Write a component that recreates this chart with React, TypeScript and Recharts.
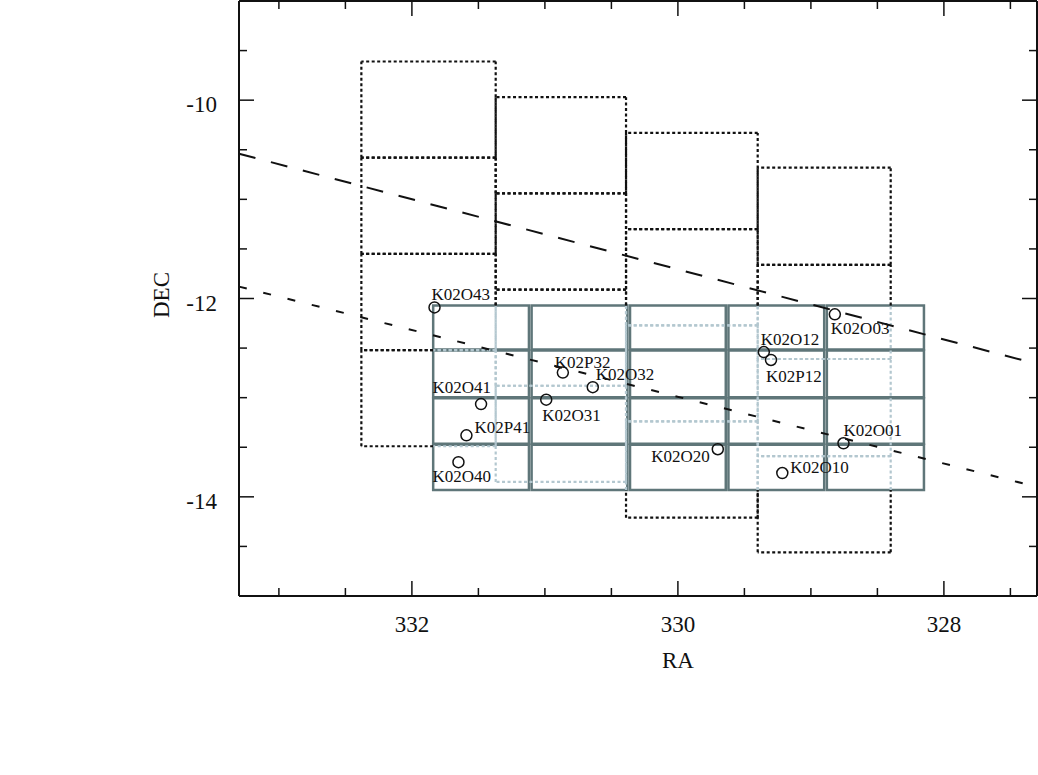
import React from 'react'
import { ComposedChart, XAxis, YAxis, Scatter, ReferenceLine, ReferenceArea, Label } from 'recharts'

// axis ticks
const RA_TICKS = [327.5, 328, 328.5, 329, 329.5, 330, 330.5, 331, 331.5, 332, 332.5, 333]
const RA_LABELED = [328, 330, 332]
const DEC_TICKS = [-14.5, -14, -13.5, -13, -12.5, -12, -11.5, -11, -10.5, -10, -9.5]
const DEC_LABELED = [-14, -12, -10]

// dotted fields: 4 columns, each a stack of 4 fields (edges in DEC)
const OLD_COL_RA = [[332.38, 331.37], [331.37, 330.39], [330.39, 329.40], [329.40, 328.40]]
const OLD_COL_DEC = [
  [-9.61, -10.58, -11.55, -12.52, -13.49],
  [-9.97, -10.94, -11.91, -12.88, -13.85],
  [-10.33, -11.30, -12.27, -13.24, -14.21],
  [-10.68, -11.66, -12.61, -13.59, -14.56],
]

// solid mosaic fields (5 x 4)
const MOSAIC_RA = [[331.84, 331.12], [331.10, 330.38], [330.36, 329.64], [329.62, 328.90], [328.88, 328.15]]
const MOSAIC_DEC = [[-12.07, -12.515], [-12.525, -12.995], [-13.005, -13.465], [-13.475, -13.93]]

// two dashed tracks
const LONG_DASH = [{ ra: 333.3, dec: -10.54 }, { ra: 327.3, dec: -12.66 }]
const SHORT_DASH = [{ ra: 333.3, dec: -11.88 }, { ra: 327.3, dec: -13.90 }]

// objects
const NAMES = ['K02O43', 'K02P32', 'K02O32', 'K02O41', 'K02O31', 'K02P41', 'K02O40',
  'K02O12', 'K02P12', 'K02O03', 'K02O01', 'K02O20', 'K02O10']
const OBJ_RA = [331.83, 330.865, 330.64, 331.48, 330.99, 331.59, 331.65,
  329.354, 329.30, 328.82, 328.755, 329.70, 329.215]
const OBJ_DEC = [-12.09, -12.747, -12.894, -13.065, -13.02, -13.38, -13.65,
  -12.54, -12.62, -12.16, -13.46, -13.52, -13.76]

// label placement relative to the marker: dx, dy, anchor
const LABEL_PLACE: Record<string, [number, number, string]> = {
  K02O43: [-3, -7, 'start'],
  K02P32: [-8, -5, 'start'],
  K02O32: [3, -7, 'start'],
  K02O41: [10, -11, 'end'],
  K02O31: [-4, 21, 'start'],
  K02P41: [8, -2, 'start'],
  K02O40: [-26, 20, 'start'],
  K02O12: [-3, -7, 'start'],
  K02P12: [-5, 22, 'start'],
  K02O03: [-4, 20, 'start'],
  K02O01: [0, -7, 'start'],
  K02O20: [-8, 13, 'end'],
  K02O10: [8, 0, 'start'],
}

const points = NAMES.map((name, i) => ({ name, ra: OBJ_RA[i], dec: OBJ_DEC[i] }))

const SERIF = '"Liberation Serif", "Times New Roman", serif'
const INK = '#111'
const MOSAIC = '#5f7679'
const FADED = '#b3c7cf'

// region covered by the mosaic, dotted lines fade inside it
const inRaMin = Math.min(...MOSAIC_RA.flat())
const inRaMax = Math.max(...MOSAIC_RA.flat())
const inDecMin = Math.min(...MOSAIC_DEC.flat())
const inDecMax = Math.max(...MOSAIC_DEC.flat())

type Seg = { a: { x: number; y: number }; b: { x: number; y: number }; inside: boolean }

function splitRange(lo: number, hi: number, a: number, b: number, hit: boolean) {
  if (!hit) return [{ lo, hi, inside: false }]
  const s = Math.max(lo, Math.min(hi, a))
  const e = Math.max(lo, Math.min(hi, b))
  return [
    { lo, hi: s, inside: false },
    { lo: s, hi: e, inside: true },
    { lo: e, hi, inside: false },
  ].filter(p => p.hi - p.lo > 1e-6)
}

function dottedSegments(): Seg[] {
  const out: Seg[] = []
  OLD_COL_RA.forEach(([r1, r2], c) => {
    const edges = OLD_COL_DEC[c]
    const raLo = Math.min(r1, r2), raHi = Math.max(r1, r2)
    for (let k = 0; k < edges.length - 1; k++) {
      const dHi = edges[k], dLo = edges[k + 1]
      ;[dHi, dLo].forEach(d => {
        splitRange(raLo, raHi, inRaMin, inRaMax, d >= inDecMin && d <= inDecMax).forEach(p =>
          out.push({ a: { x: p.lo, y: d }, b: { x: p.hi, y: d }, inside: p.inside }))
      })
      ;[raLo, raHi].forEach(r => {
        splitRange(dLo, dHi, inDecMin, inDecMax, r >= inRaMin && r <= inRaMax).forEach(p =>
          out.push({ a: { x: r, y: p.lo }, b: { x: r, y: p.hi }, inside: p.inside }))
      })
    }
  })
  return out
}

const segs = dottedSegments()

function BottomTick(p: any) {
  const major = RA_LABELED.includes(p.payload.value)
  return (
    <g>
      <line x1={p.x} y1={p.y} x2={p.x} y2={p.y - (major ? 15 : 8)} stroke={INK} strokeWidth={1.5} />
      {major && (
        <text x={p.x} y={p.y + 36} textAnchor="middle" fontSize={23} fontFamily={SERIF} fill={INK}>
          {p.payload.value}
        </text>
      )}
    </g>
  )
}

function TopTick(p: any) {
  const major = RA_LABELED.includes(p.payload.value)
  return <line x1={p.x} y1={p.y} x2={p.x} y2={p.y + (major ? 15 : 8)} stroke={INK} strokeWidth={1.5} />
}

function LeftTick(p: any) {
  const major = DEC_LABELED.includes(p.payload.value)
  return (
    <g>
      <line x1={p.x} y1={p.y} x2={p.x + (major ? 15 : 8)} y2={p.y} stroke={INK} strokeWidth={1.5} />
      {major && (
        <text x={p.x - 22} y={p.y + 12} textAnchor="end" fontSize={23} fontFamily={SERIF} fill={INK}>
          {p.payload.value}
        </text>
      )}
    </g>
  )
}

function RightTick(p: any) {
  const major = DEC_LABELED.includes(p.payload.value)
  return <line x1={p.x} y1={p.y} x2={p.x - (major ? 15 : 8)} y2={p.y} stroke={INK} strokeWidth={1.5} />
}

function ObjectMark(p: any) {
  const { cx, cy, payload } = p
  const [dx, dy, anchor] = LABEL_PLACE[payload.name] ?? [6, -6, 'start']
  return (
    <g>
      <circle cx={cx} cy={cy} r={5.5} fill="none" stroke={INK} strokeWidth={1.5} />
      <text x={cx + dx} y={cy + dy} textAnchor={anchor as any} fontSize={17} fontFamily={SERIF} fill={INK}>
        {payload.name}
      </text>
    </g>
  )
}

const axisLine = { stroke: INK, strokeWidth: 2 }

export default function App() {
  return (
    <div style={{ position: 'absolute', left: 0, top: 0, background: '#fff' }}>
      <ComposedChart width={1038} height={775} data={points} margin={{ top: 0, right: 0, bottom: 0, left: 0 }}>
        <XAxis
          dataKey="ra" type="number" domain={[327.3, 333.3]} reversed allowDataOverflow
          ticks={RA_TICKS} interval={0} tickSize={0} tickMargin={0} tickLine={false}
          tick={(p: any) => <BottomTick {...p} />} axisLine={axisLine} height={179}
        >
          <Label content={({ viewBox }: any) => (
            <text x={viewBox.x + 439} y={viewBox.y + 72} textAnchor="middle" fontSize={23} fontFamily={SERIF} fill={INK}>RA</text>
          )} />
        </XAxis>
        <XAxis
          xAxisId="top" orientation="top" dataKey="ra" type="number" domain={[327.3, 333.3]} reversed allowDataOverflow
          ticks={RA_TICKS} interval={0} tickSize={0} tickMargin={0} tickLine={false}
          tick={(p: any) => <TopTick {...p} />} axisLine={axisLine} height={1}
        />
        <YAxis
          dataKey="dec" type="number" domain={[-15, -9]} allowDataOverflow
          ticks={DEC_TICKS} interval={0} tickSize={0} tickMargin={0} tickLine={false}
          tick={(p: any) => <LeftTick {...p} />} axisLine={axisLine} width={239}
        >
          <Label content={({ viewBox }: any) => {
            const x = viewBox.x + 161
            const y = viewBox.y + 294
            return (
              <text x={x} y={y} transform={`rotate(-90 ${x} ${y})`} textAnchor="middle" dominantBaseline="central"
                fontSize={23} fontFamily={SERIF} fill={INK}>DEC</text>
            )
          }} />
        </YAxis>
        <YAxis
          yAxisId="right" orientation="right" dataKey="dec" type="number" domain={[-15, -9]} allowDataOverflow
          ticks={DEC_TICKS} interval={0} tickSize={0} tickMargin={0} tickLine={false}
          tick={(p: any) => <RightTick {...p} />} axisLine={axisLine} width={1}
        />

        {MOSAIC_RA.flatMap(([r1, r2], c) =>
          MOSAIC_DEC.map(([d1, d2], r) => (
            <ReferenceArea key={`m${c}-${r}`} x1={r1} x2={r2} y1={d1} y2={d2}
              fill="none" fillOpacity={0} stroke={MOSAIC} strokeWidth={2.5} ifOverflow="visible" />
          ))
        )}

        {segs.map((s, i) => (
          <ReferenceLine key={`d${i}`} segment={[s.a, s.b]} stroke={s.inside ? FADED : INK}
            strokeWidth={2.2} strokeDasharray="3 2.5" ifOverflow="visible" />
        ))}

        <ReferenceLine segment={[{ x: LONG_DASH[0].ra, y: LONG_DASH[0].dec }, { x: LONG_DASH[1].ra, y: LONG_DASH[1].dec }]}
          stroke={INK} strokeWidth={2} strokeDasharray="17 16" />
        <ReferenceLine segment={[{ x: SHORT_DASH[0].ra, y: SHORT_DASH[0].dec }, { x: SHORT_DASH[1].ra, y: SHORT_DASH[1].dec }]}
          stroke={INK} strokeWidth={2} strokeDasharray="8 17" />

        <Scatter data={points} dataKey="dec" isAnimationActive={false} shape={(p: any) => <ObjectMark {...p} />} />
        <Scatter data={points} dataKey="dec" xAxisId="top" yAxisId="right" isAnimationActive={false} shape={() => <g />} />
      </ComposedChart>
    </div>
  )
}
